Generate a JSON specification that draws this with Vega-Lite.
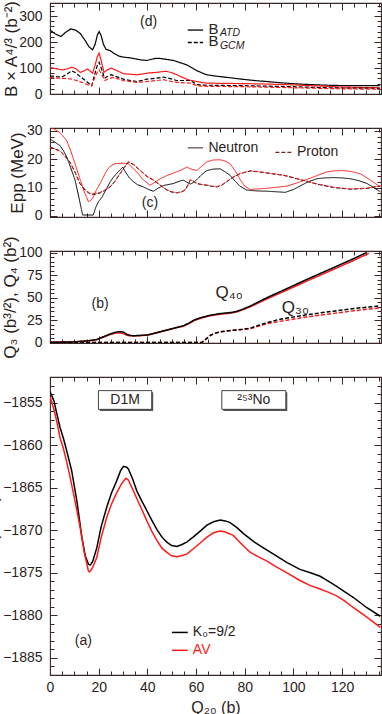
{
"$schema": "https://vega.github.io/schema/vega-lite/v6.json",
"autosize": {"type": "pad"},
"padding": {"left": -18, "top": -2, "right": 0, "bottom": 0},
"background": "white",
"spacing": 34,
"bounds": "flush",
"config": {
  "font": "Liberation Sans",
  "view": {"stroke": "#3a2828", "strokeWidth": 1.1},
  "axis": {"domain": false, "grid": false, "labelFont": "Liberation Sans", "labelFontSize": 14, "labelColor": "#2b1d1d", "titleFont": "Liberation Sans", "titleFontSize": 17, "titleFontWeight": "normal", "titleColor": "#2b1d1d", "tickColor": "#3a2828", "tickWidth": 1, "labelFlush": false, "labelOverlap": false},
  "text": {"font": "Liberation Sans", "fontSize": 14, "color": "#2b1d1d"}
},
"datasets": {
  "d": [
    {"q":0,"v":246,"s":"ATD K0"},{"q":2,"v":232,"s":"ATD K0"},{"q":4.5,"v":221,"s":"ATD K0"},{"q":6.5,"v":238,"s":"ATD K0"},{"q":8.5,"v":250,"s":"ATD K0"},{"q":10.5,"v":246,"s":"ATD K0"},{"q":12.5,"v":232,"s":"ATD K0"},{"q":14.5,"v":205,"s":"ATD K0"},{"q":16,"v":182,"s":"ATD K0"},{"q":17.5,"v":170,"s":"ATD K0"},{"q":18.5,"v":190,"s":"ATD K0"},{"q":19.5,"v":228,"s":"ATD K0"},{"q":20.2,"v":240,"s":"ATD K0"},{"q":21,"v":225,"s":"ATD K0"},{"q":22,"v":190,"s":"ATD K0"},{"q":23,"v":172,"s":"ATD K0"},{"q":24.7,"v":167,"s":"ATD K0"},{"q":26.5,"v":155,"s":"ATD K0"},{"q":28.5,"v":145,"s":"ATD K0"},{"q":30.2,"v":142,"s":"ATD K0"},{"q":33,"v":139,"s":"ATD K0"},{"q":35.7,"v":134,"s":"ATD K0"},{"q":37.5,"v":131,"s":"ATD K0"},{"q":39.8,"v":129,"s":"ATD K0"},{"q":41.5,"v":133,"s":"ATD K0"},{"q":43.2,"v":137,"s":"ATD K0"},{"q":45,"v":137,"s":"ATD K0"},{"q":47.3,"v":134,"s":"ATD K0"},{"q":50.7,"v":129,"s":"ATD K0"},{"q":53,"v":122,"s":"ATD K0"},{"q":56.2,"v":112,"s":"ATD K0"},{"q":58.5,"v":100,"s":"ATD K0"},{"q":60.3,"v":90,"s":"ATD K0"},{"q":62.5,"v":81,"s":"ATD K0"},{"q":64.4,"v":74,"s":"ATD K0"},{"q":68,"v":69,"s":"ATD K0"},{"q":72.6,"v":64,"s":"ATD K0"},{"q":76,"v":60,"s":"ATD K0"},{"q":80.8,"v":55,"s":"ATD K0"},{"q":85,"v":51,"s":"ATD K0"},{"q":89,"v":48,"s":"ATD K0"},{"q":95,"v":43,"s":"ATD K0"},{"q":102.7,"v":38,"s":"ATD K0"},{"q":110,"v":35,"s":"ATD K0"},{"q":116.5,"v":33,"s":"ATD K0"},{"q":125,"v":32,"s":"ATD K0"},{"q":135.5,"v":32,"s":"ATD K0"},
    {"q":0,"v":102,"s":"ATD AV"},{"q":2.5,"v":97,"s":"ATD AV"},{"q":5,"v":93,"s":"ATD AV"},{"q":7,"v":96,"s":"ATD AV"},{"q":9,"v":103,"s":"ATD AV"},{"q":10.5,"v":98,"s":"ATD AV"},{"q":12.4,"v":83,"s":"ATD AV"},{"q":13.8,"v":88,"s":"ATD AV"},{"q":15.4,"v":96,"s":"ATD AV"},{"q":16.5,"v":88,"s":"ATD AV"},{"q":17.5,"v":80,"s":"ATD AV"},{"q":18.5,"v":110,"s":"ATD AV"},{"q":19.5,"v":145,"s":"ATD AV"},{"q":20.2,"v":157,"s":"ATD AV"},{"q":21,"v":130,"s":"ATD AV"},{"q":22.2,"v":83,"s":"ATD AV"},{"q":23.5,"v":92,"s":"ATD AV"},{"q":25.1,"v":100,"s":"ATD AV"},{"q":27,"v":92,"s":"ATD AV"},{"q":30.2,"v":78,"s":"ATD AV"},{"q":33,"v":76,"s":"ATD AV"},{"q":35.7,"v":74,"s":"ATD AV"},{"q":38,"v":77,"s":"ATD AV"},{"q":39.8,"v":80,"s":"ATD AV"},{"q":42,"v":82,"s":"ATD AV"},{"q":43.9,"v":83,"s":"ATD AV"},{"q":46,"v":86,"s":"ATD AV"},{"q":48,"v":87,"s":"ATD AV"},{"q":50,"v":82,"s":"ATD AV"},{"q":52.1,"v":74,"s":"ATD AV"},{"q":54,"v":66,"s":"ATD AV"},{"q":56.2,"v":57,"s":"ATD AV"},{"q":58,"v":52,"s":"ATD AV"},{"q":60.3,"v":48,"s":"ATD AV"},{"q":62.5,"v":44,"s":"ATD AV"},{"q":64.4,"v":42,"s":"ATD AV"},{"q":70,"v":41,"s":"ATD AV"},{"q":80,"v":40,"s":"ATD AV"},{"q":90,"v":38,"s":"ATD AV"},{"q":100,"v":35,"s":"ATD AV"},{"q":110,"v":31,"s":"ATD AV"},{"q":120,"v":27,"s":"ATD AV"},{"q":128,"v":25,"s":"ATD AV"},{"q":135.5,"v":24,"s":"ATD AV"},
    {"q":0,"v":70,"s":"GCM K0"},{"q":2.5,"v":67,"s":"GCM K0"},{"q":4.8,"v":65,"s":"GCM K0"},{"q":7,"v":77,"s":"GCM K0"},{"q":9,"v":89,"s":"GCM K0"},{"q":10.5,"v":82,"s":"GCM K0"},{"q":12,"v":70,"s":"GCM K0"},{"q":13.7,"v":58,"s":"GCM K0"},{"q":15.4,"v":45,"s":"GCM K0"},{"q":17.1,"v":32,"s":"GCM K0"},{"q":18.5,"v":80,"s":"GCM K0"},{"q":19.5,"v":112,"s":"GCM K0"},{"q":20.2,"v":122,"s":"GCM K0"},{"q":21.2,"v":95,"s":"GCM K0"},{"q":22.4,"v":61,"s":"GCM K0"},{"q":23.8,"v":68,"s":"GCM K0"},{"q":25.1,"v":74,"s":"GCM K0"},{"q":27.5,"v":66,"s":"GCM K0"},{"q":30.2,"v":57,"s":"GCM K0"},{"q":33,"v":52,"s":"GCM K0"},{"q":35.7,"v":48,"s":"GCM K0"},{"q":38,"v":53,"s":"GCM K0"},{"q":39.8,"v":57,"s":"GCM K0"},{"q":43,"v":60,"s":"GCM K0"},{"q":46.6,"v":65,"s":"GCM K0"},{"q":49,"v":60,"s":"GCM K0"},{"q":52.1,"v":52,"s":"GCM K0"},{"q":55,"v":52,"s":"GCM K0"},{"q":57.6,"v":52,"s":"GCM K0"},{"q":59,"v":44,"s":"GCM K0"},{"q":60.3,"v":36,"s":"GCM K0"},{"q":63,"v":34,"s":"GCM K0"},{"q":70,"v":33,"s":"GCM K0"},{"q":80,"v":32,"s":"GCM K0"},{"q":90,"v":30,"s":"GCM K0"},{"q":100,"v":28,"s":"GCM K0"},{"q":110,"v":25,"s":"GCM K0"},{"q":120,"v":23,"s":"GCM K0"},{"q":135.5,"v":22,"s":"GCM K0"},
    {"q":0,"v":64,"s":"GCM AV"},{"q":3,"v":61,"s":"GCM AV"},{"q":6,"v":60,"s":"GCM AV"},{"q":9,"v":57,"s":"GCM AV"},{"q":11.5,"v":50,"s":"GCM AV"},{"q":13.7,"v":42,"s":"GCM AV"},{"q":15.5,"v":36,"s":"GCM AV"},{"q":17.1,"v":32,"s":"GCM AV"},{"q":18.5,"v":65,"s":"GCM AV"},{"q":19.5,"v":85,"s":"GCM AV"},{"q":20.2,"v":93,"s":"GCM AV"},{"q":21.2,"v":75,"s":"GCM AV"},{"q":22.6,"v":52,"s":"GCM AV"},{"q":24,"v":58,"s":"GCM AV"},{"q":25.8,"v":64,"s":"GCM AV"},{"q":28,"v":58,"s":"GCM AV"},{"q":30.2,"v":51,"s":"GCM AV"},{"q":33,"v":48,"s":"GCM AV"},{"q":35.7,"v":45,"s":"GCM AV"},{"q":39.8,"v":48,"s":"GCM AV"},{"q":44,"v":52,"s":"GCM AV"},{"q":46.6,"v":55,"s":"GCM AV"},{"q":49,"v":50,"s":"GCM AV"},{"q":52.1,"v":45,"s":"GCM AV"},{"q":55,"v":43,"s":"GCM AV"},{"q":57.6,"v":42,"s":"GCM AV"},{"q":59,"v":37,"s":"GCM AV"},{"q":60.3,"v":32,"s":"GCM AV"},{"q":63,"v":30,"s":"GCM AV"},{"q":70,"v":29,"s":"GCM AV"},{"q":80,"v":28,"s":"GCM AV"},{"q":90,"v":26,"s":"GCM AV"},{"q":100,"v":24,"s":"GCM AV"},{"q":110,"v":22,"s":"GCM AV"},{"q":120,"v":20,"s":"GCM AV"},{"q":135.5,"v":18,"s":"GCM AV"}
  ],
  "c": [
    {"q":0,"v":27.1,"s":"N K0"},{"q":2,"v":26,"s":"N K0"},{"q":4.1,"v":24.8,"s":"N K0"},{"q":5.5,"v":23,"s":"N K0"},{"q":6.9,"v":20.7,"s":"N K0"},{"q":8.5,"v":17,"s":"N K0"},{"q":10.3,"v":12.6,"s":"N K0"},{"q":12,"v":6,"s":"N K0"},{"q":13.4,"v":0.3,"s":"N K0"},{"q":17.8,"v":0.3,"s":"N K0"},{"q":18.8,"v":3,"s":"N K0"},{"q":19.9,"v":5,"s":"N K0"},{"q":21.3,"v":6.5,"s":"N K0"},{"q":22.2,"v":8,"s":"N K0"},{"q":23.3,"v":9.7,"s":"N K0"},{"q":24.7,"v":12,"s":"N K0"},{"q":26.1,"v":13.7,"s":"N K0"},{"q":28,"v":15.5,"s":"N K0"},{"q":29.9,"v":17.2,"s":"N K0"},{"q":31,"v":15.5,"s":"N K0"},{"q":32.5,"v":13.5,"s":"N K0"},{"q":34.3,"v":12,"s":"N K0"},{"q":36,"v":11,"s":"N K0"},{"q":38.4,"v":10.2,"s":"N K0"},{"q":40.5,"v":9.3,"s":"N K0"},{"q":42.5,"v":8.7,"s":"N K0"},{"q":44.5,"v":9.8,"s":"N K0"},{"q":46.6,"v":10.7,"s":"N K0"},{"q":50.7,"v":11.4,"s":"N K0"},{"q":53,"v":12.2,"s":"N K0"},{"q":54.8,"v":12.6,"s":"N K0"},{"q":56,"v":12,"s":"N K0"},{"q":57.6,"v":11.2,"s":"N K0"},{"q":59,"v":11.8,"s":"N K0"},{"q":60.3,"v":12.8,"s":"N K0"},{"q":62.3,"v":14.5,"s":"N K0"},{"q":64.4,"v":16,"s":"N K0"},{"q":67,"v":16.5,"s":"N K0"},{"q":69.9,"v":16.6,"s":"N K0"},{"q":72,"v":15.5,"s":"N K0"},{"q":74,"v":14.3,"s":"N K0"},{"q":76,"v":12.3,"s":"N K0"},{"q":78,"v":10.5,"s":"N K0"},{"q":80.8,"v":9.1,"s":"N K0"},{"q":85,"v":8.8,"s":"N K0"},{"q":89,"v":8.7,"s":"N K0"},{"q":93,"v":8.5,"s":"N K0"},{"q":96.7,"v":8.3,"s":"N K0"},{"q":100,"v":9.3,"s":"N K0"},{"q":102.7,"v":10.5,"s":"N K0"},{"q":106,"v":12,"s":"N K0"},{"q":109.7,"v":13.1,"s":"N K0"},{"q":113,"v":13.4,"s":"N K0"},{"q":116.5,"v":13.5,"s":"N K0"},{"q":120,"v":13.4,"s":"N K0"},{"q":123.4,"v":13.1,"s":"N K0"},{"q":127,"v":12.4,"s":"N K0"},{"q":130.3,"v":11.4,"s":"N K0"},{"q":133,"v":10,"s":"N K0"},{"q":135.7,"v":8.5,"s":"N K0"},
    {"q":0,"v":31.2,"s":"N AV"},{"q":2,"v":30.5,"s":"N AV"},{"q":4.1,"v":29.4,"s":"N AV"},{"q":6.9,"v":26.5,"s":"N AV"},{"q":8.5,"v":23,"s":"N AV"},{"q":10.3,"v":18.4,"s":"N AV"},{"q":12.3,"v":13,"s":"N AV"},{"q":14.3,"v":8,"s":"N AV"},{"q":15.8,"v":5,"s":"N AV"},{"q":16.8,"v":5.5,"s":"N AV"},{"q":17.8,"v":6.7,"s":"N AV"},{"q":19,"v":9,"s":"N AV"},{"q":20.6,"v":11.4,"s":"N AV"},{"q":21.8,"v":13.5,"s":"N AV"},{"q":23.3,"v":16,"s":"N AV"},{"q":24.7,"v":17.5,"s":"N AV"},{"q":26.7,"v":18.4,"s":"N AV"},{"q":30.2,"v":18.6,"s":"N AV"},{"q":32.2,"v":18.4,"s":"N AV"},{"q":34,"v":16.8,"s":"N AV"},{"q":35.7,"v":15.5,"s":"N AV"},{"q":38,"v":13,"s":"N AV"},{"q":41.1,"v":10.8,"s":"N AV"},{"q":43,"v":11.8,"s":"N AV"},{"q":45.3,"v":13.1,"s":"N AV"},{"q":48,"v":14.2,"s":"N AV"},{"q":50.7,"v":15.1,"s":"N AV"},{"q":53.5,"v":16,"s":"N AV"},{"q":56.2,"v":17.2,"s":"N AV"},{"q":58,"v":16.5,"s":"N AV"},{"q":60.3,"v":16,"s":"N AV"},{"q":62.3,"v":17.5,"s":"N AV"},{"q":64.4,"v":19,"s":"N AV"},{"q":67,"v":19.7,"s":"N AV"},{"q":69.9,"v":19.8,"s":"N AV"},{"q":72,"v":19.3,"s":"N AV"},{"q":74,"v":18.4,"s":"N AV"},{"q":76,"v":16,"s":"N AV"},{"q":78,"v":13,"s":"N AV"},{"q":80,"v":10.5,"s":"N AV"},{"q":82.3,"v":9.3,"s":"N AV"},{"q":90,"v":9.8,"s":"N AV"},{"q":97.4,"v":10.5,"s":"N AV"},{"q":101,"v":11.5,"s":"N AV"},{"q":105.5,"v":12.8,"s":"N AV"},{"q":110,"v":14.3,"s":"N AV"},{"q":113.7,"v":15.5,"s":"N AV"},{"q":117,"v":15.9,"s":"N AV"},{"q":120.6,"v":16,"s":"N AV"},{"q":124,"v":15.6,"s":"N AV"},{"q":127.4,"v":14.9,"s":"N AV"},{"q":131,"v":13,"s":"N AV"},{"q":135.7,"v":10.2,"s":"N AV"},
    {"q":0,"v":24.4,"s":"P K0"},{"q":2,"v":23.6,"s":"P K0"},{"q":4.1,"v":23,"s":"P K0"},{"q":6,"v":21.3,"s":"P K0"},{"q":8.2,"v":19,"s":"P K0"},{"q":10,"v":16,"s":"P K0"},{"q":12.3,"v":11.4,"s":"P K0"},{"q":14.5,"v":9,"s":"P K0"},{"q":16.5,"v":7.7,"s":"P K0"},{"q":18.5,"v":7.6,"s":"P K0"},{"q":20.6,"v":8.1,"s":"P K0"},{"q":22.5,"v":9,"s":"P K0"},{"q":24.7,"v":10.2,"s":"P K0"},{"q":26.7,"v":12.2,"s":"P K0"},{"q":28.8,"v":14.9,"s":"P K0"},{"q":30.5,"v":17,"s":"P K0"},{"q":32.2,"v":19,"s":"P K0"},{"q":34.5,"v":18,"s":"P K0"},{"q":37,"v":16,"s":"P K0"},{"q":40,"v":13.8,"s":"P K0"},{"q":42.5,"v":12.6,"s":"P K0"},{"q":45.3,"v":10.8,"s":"P K0"},{"q":48,"v":9.1,"s":"P K0"},{"q":50,"v":8.4,"s":"P K0"},{"q":52.1,"v":8.1,"s":"P K0"},{"q":54,"v":8.4,"s":"P K0"},{"q":55.5,"v":9.1,"s":"P K0"},{"q":56.5,"v":10.5,"s":"P K0"},{"q":57.6,"v":12.6,"s":"P K0"},{"q":58.8,"v":12.3,"s":"P K0"},{"q":60.3,"v":11.4,"s":"P K0"},{"q":62.3,"v":11,"s":"P K0"},{"q":64.4,"v":10.8,"s":"P K0"},{"q":66.5,"v":10.4,"s":"P K0"},{"q":68.5,"v":10.2,"s":"P K0"},{"q":70.5,"v":10.8,"s":"P K0"},{"q":72.6,"v":12,"s":"P K0"},{"q":75,"v":13.5,"s":"P K0"},{"q":78.1,"v":14.9,"s":"P K0"},{"q":82.3,"v":15.8,"s":"P K0"},{"q":85,"v":15.6,"s":"P K0"},{"q":89,"v":15.1,"s":"P K0"},{"q":96,"v":14.3,"s":"P K0"},{"q":102.7,"v":12.8,"s":"P K0"},{"q":109.7,"v":11.2,"s":"P K0"},{"q":116.5,"v":10,"s":"P K0"},{"q":123.4,"v":9.4,"s":"P K0"},{"q":130.3,"v":9.7,"s":"P K0"},{"q":135.7,"v":10.5,"s":"P K0"},
    {"q":0,"v":24.2,"s":"P AV"},{"q":2,"v":23.5,"s":"P AV"},{"q":4.1,"v":22.8,"s":"P AV"},{"q":6,"v":21.2,"s":"P AV"},{"q":8.2,"v":18.8,"s":"P AV"},{"q":10,"v":15.8,"s":"P AV"},{"q":12.3,"v":11.5,"s":"P AV"},{"q":14.5,"v":9.2,"s":"P AV"},{"q":16.5,"v":7.9,"s":"P AV"},{"q":18.5,"v":7.8,"s":"P AV"},{"q":20.6,"v":8.3,"s":"P AV"},{"q":22.5,"v":9.1,"s":"P AV"},{"q":24.7,"v":10.3,"s":"P AV"},{"q":26.7,"v":12.3,"s":"P AV"},{"q":28.8,"v":15,"s":"P AV"},{"q":30.5,"v":17.1,"s":"P AV"},{"q":32.2,"v":19.1,"s":"P AV"},{"q":34.5,"v":18.1,"s":"P AV"},{"q":37,"v":16.1,"s":"P AV"},{"q":40,"v":13.9,"s":"P AV"},{"q":42.5,"v":12.7,"s":"P AV"},{"q":45.3,"v":10.9,"s":"P AV"},{"q":48,"v":9.2,"s":"P AV"},{"q":50,"v":8.5,"s":"P AV"},{"q":52.1,"v":8.2,"s":"P AV"},{"q":54,"v":8.5,"s":"P AV"},{"q":55.5,"v":9.2,"s":"P AV"},{"q":56.5,"v":10.6,"s":"P AV"},{"q":57.6,"v":12.7,"s":"P AV"},{"q":58.8,"v":12.4,"s":"P AV"},{"q":60.3,"v":11.5,"s":"P AV"},{"q":62.3,"v":11.1,"s":"P AV"},{"q":64.4,"v":10.9,"s":"P AV"},{"q":66.5,"v":10.5,"s":"P AV"},{"q":68.5,"v":10.3,"s":"P AV"},{"q":70.5,"v":10.9,"s":"P AV"},{"q":72.6,"v":12.1,"s":"P AV"},{"q":75,"v":13.6,"s":"P AV"},{"q":78.1,"v":15,"s":"P AV"},{"q":82.3,"v":15.9,"s":"P AV"},{"q":85,"v":15.7,"s":"P AV"},{"q":89,"v":15.2,"s":"P AV"},{"q":96,"v":14.4,"s":"P AV"},{"q":102.7,"v":12.9,"s":"P AV"},{"q":109.7,"v":11.3,"s":"P AV"},{"q":116.5,"v":10.1,"s":"P AV"},{"q":123.4,"v":9.5,"s":"P AV"},{"q":130.3,"v":9.8,"s":"P AV"},{"q":135.7,"v":10.6,"s":"P AV"}
  ],
  "b": [
    {"q":0,"v":0.3,"s":"Q40 K0"},{"q":5,"v":0.5,"s":"Q40 K0"},{"q":10,"v":0.8,"s":"Q40 K0"},{"q":13.7,"v":1.5,"s":"Q40 K0"},{"q":16.5,"v":2.2,"s":"Q40 K0"},{"q":19.2,"v":3.3,"s":"Q40 K0"},{"q":22,"v":6,"s":"Q40 K0"},{"q":24.7,"v":8.9,"s":"Q40 K0"},{"q":27,"v":10.5,"s":"Q40 K0"},{"q":28.8,"v":10.8,"s":"Q40 K0"},{"q":30,"v":10.2,"s":"Q40 K0"},{"q":31.5,"v":8.2,"s":"Q40 K0"},{"q":33,"v":7.5,"s":"Q40 K0"},{"q":34.3,"v":7.4,"s":"Q40 K0"},{"q":37,"v":7.7,"s":"Q40 K0"},{"q":39.8,"v":8.2,"s":"Q40 K0"},{"q":42.5,"v":9.8,"s":"Q40 K0"},{"q":45.3,"v":11.9,"s":"Q40 K0"},{"q":48,"v":13.8,"s":"Q40 K0"},{"q":50.7,"v":15.6,"s":"Q40 K0"},{"q":52.8,"v":17,"s":"Q40 K0"},{"q":54.8,"v":18.2,"s":"Q40 K0"},{"q":57,"v":21,"s":"Q40 K0"},{"q":59,"v":24.2,"s":"Q40 K0"},{"q":61,"v":26.3,"s":"Q40 K0"},{"q":63.1,"v":27.9,"s":"Q40 K0"},{"q":65,"v":29.3,"s":"Q40 K0"},{"q":67.2,"v":30.5,"s":"Q40 K0"},{"q":70,"v":31.6,"s":"Q40 K0"},{"q":72.6,"v":32.3,"s":"Q40 K0"},{"q":74.7,"v":33,"s":"Q40 K0"},{"q":76.8,"v":34.2,"s":"Q40 K0"},{"q":79.5,"v":36.8,"s":"Q40 K0"},{"q":82.3,"v":39.8,"s":"Q40 K0"},{"q":89,"v":48.5,"s":"Q40 K0"},{"q":97.4,"v":58.5,"s":"Q40 K0"},{"q":105.5,"v":68.5,"s":"Q40 K0"},{"q":116.5,"v":81.5,"s":"Q40 K0"},{"q":124.8,"v":91.5,"s":"Q40 K0"},{"q":131,"v":99.5,"s":"Q40 K0"},
    {"q":0,"v":0.3,"s":"Q40 AV"},{"q":5,"v":0.5,"s":"Q40 AV"},{"q":10,"v":0.8,"s":"Q40 AV"},{"q":13.7,"v":1.5,"s":"Q40 AV"},{"q":16.5,"v":2.2,"s":"Q40 AV"},{"q":19.2,"v":3.4,"s":"Q40 AV"},{"q":22,"v":6.5,"s":"Q40 AV"},{"q":24.7,"v":9.6,"s":"Q40 AV"},{"q":27,"v":11.5,"s":"Q40 AV"},{"q":28.8,"v":12.2,"s":"Q40 AV"},{"q":30,"v":11.8,"s":"Q40 AV"},{"q":31.5,"v":9.3,"s":"Q40 AV"},{"q":33,"v":7.9,"s":"Q40 AV"},{"q":34.3,"v":7.6,"s":"Q40 AV"},{"q":37,"v":7.9,"s":"Q40 AV"},{"q":39.8,"v":8.4,"s":"Q40 AV"},{"q":42.5,"v":10,"s":"Q40 AV"},{"q":45.3,"v":12.1,"s":"Q40 AV"},{"q":48,"v":14,"s":"Q40 AV"},{"q":50.7,"v":15.8,"s":"Q40 AV"},{"q":52.8,"v":17.3,"s":"Q40 AV"},{"q":54.8,"v":18.6,"s":"Q40 AV"},{"q":57,"v":21.6,"s":"Q40 AV"},{"q":59,"v":24.8,"s":"Q40 AV"},{"q":61,"v":26.9,"s":"Q40 AV"},{"q":63.1,"v":28.5,"s":"Q40 AV"},{"q":65,"v":29.9,"s":"Q40 AV"},{"q":67.2,"v":31.1,"s":"Q40 AV"},{"q":70,"v":32.3,"s":"Q40 AV"},{"q":72.6,"v":33,"s":"Q40 AV"},{"q":74.7,"v":33.6,"s":"Q40 AV"},{"q":76.8,"v":34.8,"s":"Q40 AV"},{"q":79.5,"v":37.5,"s":"Q40 AV"},{"q":82.3,"v":40.7,"s":"Q40 AV"},{"q":89,"v":49.8,"s":"Q40 AV"},{"q":97.4,"v":60.2,"s":"Q40 AV"},{"q":105.5,"v":70.3,"s":"Q40 AV"},{"q":116.5,"v":83.5,"s":"Q40 AV"},{"q":124.8,"v":93.5,"s":"Q40 AV"},{"q":129.8,"v":100,"s":"Q40 AV"},
    {"q":0,"v":0,"s":"Q30 K0"},{"q":62.4,"v":0,"s":"Q30 K0"},{"q":63.5,"v":2.5,"s":"Q30 K0"},{"q":64.8,"v":5.5,"s":"Q30 K0"},{"q":66,"v":8.2,"s":"Q30 K0"},{"q":68,"v":10.5,"s":"Q30 K0"},{"q":70.1,"v":11.9,"s":"Q30 K0"},{"q":72.6,"v":13,"s":"Q30 K0"},{"q":75.6,"v":13.8,"s":"Q30 K0"},{"q":79,"v":14.6,"s":"Q30 K0"},{"q":82.3,"v":15.6,"s":"Q30 K0"},{"q":85.5,"v":18,"s":"Q30 K0"},{"q":89,"v":21,"s":"Q30 K0"},{"q":93,"v":23,"s":"Q30 K0"},{"q":97.4,"v":24.9,"s":"Q30 K0"},{"q":105.5,"v":28.5,"s":"Q30 K0"},{"q":116.5,"v":32.5,"s":"Q30 K0"},{"q":125,"v":35.5,"s":"Q30 K0"},{"q":135.7,"v":38.7,"s":"Q30 K0"},
    {"q":0,"v":0,"s":"Q30 AV"},{"q":62.4,"v":0,"s":"Q30 AV"},{"q":63.5,"v":2.5,"s":"Q30 AV"},{"q":64.8,"v":5.5,"s":"Q30 AV"},{"q":66,"v":8.2,"s":"Q30 AV"},{"q":68,"v":10.5,"s":"Q30 AV"},{"q":70.1,"v":11.9,"s":"Q30 AV"},{"q":72.6,"v":13,"s":"Q30 AV"},{"q":75.6,"v":13.8,"s":"Q30 AV"},{"q":79,"v":14.8,"s":"Q30 AV"},{"q":82.3,"v":16,"s":"Q30 AV"},{"q":85.5,"v":19,"s":"Q30 AV"},{"q":89,"v":22,"s":"Q30 AV"},{"q":93,"v":25,"s":"Q30 AV"},{"q":97.4,"v":27.3,"s":"Q30 AV"},{"q":105.5,"v":31,"s":"Q30 AV"},{"q":116.5,"v":35,"s":"Q30 AV"},{"q":125,"v":38,"s":"Q30 AV"},{"q":135.7,"v":40.9,"s":"Q30 AV"}
  ],
  "a": [
    {"q":0,"v":-1853.7,"s":"K0"},{"q":1.6,"v":-1854.8,"s":"K0"},{"q":2.8,"v":-1856.3,"s":"K0"},{"q":4.1,"v":-1857.9,"s":"K0"},{"q":5.5,"v":-1859.2,"s":"K0"},{"q":6.9,"v":-1860.7,"s":"K0"},{"q":8.9,"v":-1863,"s":"K0"},{"q":11,"v":-1866.5,"s":"K0"},{"q":13.1,"v":-1870.8,"s":"K0"},{"q":14.5,"v":-1873,"s":"K0"},{"q":15.8,"v":-1874,"s":"K0"},{"q":16.5,"v":-1874.1,"s":"K0"},{"q":17.5,"v":-1873.7,"s":"K0"},{"q":19.2,"v":-1872.1,"s":"K0"},{"q":21,"v":-1869.6,"s":"K0"},{"q":23.3,"v":-1867.3,"s":"K0"},{"q":25.3,"v":-1865.6,"s":"K0"},{"q":27.4,"v":-1864.2,"s":"K0"},{"q":29,"v":-1863,"s":"K0"},{"q":30.2,"v":-1862.5,"s":"K0"},{"q":31.5,"v":-1862.6,"s":"K0"},{"q":32.2,"v":-1862.8,"s":"K0"},{"q":34,"v":-1864,"s":"K0"},{"q":35.7,"v":-1865.4,"s":"K0"},{"q":37.8,"v":-1866.6,"s":"K0"},{"q":39.8,"v":-1867.7,"s":"K0"},{"q":41.8,"v":-1868.8,"s":"K0"},{"q":43.9,"v":-1869.9,"s":"K0"},{"q":46,"v":-1870.8,"s":"K0"},{"q":48,"v":-1871.4,"s":"K0"},{"q":50,"v":-1871.8,"s":"K0"},{"q":52.1,"v":-1871.9,"s":"K0"},{"q":54,"v":-1871.7,"s":"K0"},{"q":56.2,"v":-1871.4,"s":"K0"},{"q":58.8,"v":-1870.8,"s":"K0"},{"q":61.7,"v":-1870.1,"s":"K0"},{"q":64.5,"v":-1869.4,"s":"K0"},{"q":67.2,"v":-1869,"s":"K0"},{"q":69.9,"v":-1868.8,"s":"K0"},{"q":72,"v":-1868.9,"s":"K0"},{"q":74,"v":-1869.1,"s":"K0"},{"q":76.8,"v":-1869.7,"s":"K0"},{"q":79.5,"v":-1870.4,"s":"K0"},{"q":84,"v":-1871.4,"s":"K0"},{"q":89,"v":-1872.3,"s":"K0"},{"q":93,"v":-1873,"s":"K0"},{"q":97.4,"v":-1873.8,"s":"K0"},{"q":102.7,"v":-1874.6,"s":"K0"},{"q":107,"v":-1875,"s":"K0"},{"q":111,"v":-1875.4,"s":"K0"},{"q":114.5,"v":-1876,"s":"K0"},{"q":117.8,"v":-1876.6,"s":"K0"},{"q":121,"v":-1877.2,"s":"K0"},{"q":124.7,"v":-1877.9,"s":"K0"},{"q":130.2,"v":-1879.1,"s":"K0"},{"q":135.7,"v":-1880.1,"s":"K0"},
    {"q":0,"v":-1854.3,"s":"AV"},{"q":1.8,"v":-1856,"s":"AV"},{"q":3,"v":-1857.5,"s":"AV"},{"q":4.1,"v":-1859.1,"s":"AV"},{"q":5.5,"v":-1860.4,"s":"AV"},{"q":6.9,"v":-1862,"s":"AV"},{"q":8.2,"v":-1863.7,"s":"AV"},{"q":9.6,"v":-1865.6,"s":"AV"},{"q":11,"v":-1867.6,"s":"AV"},{"q":12.4,"v":-1869.7,"s":"AV"},{"q":14,"v":-1872.5,"s":"AV"},{"q":15.8,"v":-1874.8,"s":"AV"},{"q":16.3,"v":-1874.9,"s":"AV"},{"q":17.5,"v":-1874.4,"s":"AV"},{"q":19.2,"v":-1873.2,"s":"AV"},{"q":21,"v":-1870.9,"s":"AV"},{"q":23.3,"v":-1868.5,"s":"AV"},{"q":25.3,"v":-1866.9,"s":"AV"},{"q":27.4,"v":-1865.6,"s":"AV"},{"q":29.5,"v":-1864.5,"s":"AV"},{"q":31.2,"v":-1863.9,"s":"AV"},{"q":32.2,"v":-1864.1,"s":"AV"},{"q":34,"v":-1865.2,"s":"AV"},{"q":35.7,"v":-1866.3,"s":"AV"},{"q":37.8,"v":-1867.6,"s":"AV"},{"q":39.8,"v":-1868.9,"s":"AV"},{"q":41.8,"v":-1870.1,"s":"AV"},{"q":43.9,"v":-1871.2,"s":"AV"},{"q":46,"v":-1872.1,"s":"AV"},{"q":48,"v":-1872.6,"s":"AV"},{"q":50,"v":-1873,"s":"AV"},{"q":52.1,"v":-1873.1,"s":"AV"},{"q":54,"v":-1873,"s":"AV"},{"q":56.2,"v":-1872.8,"s":"AV"},{"q":58.8,"v":-1872.2,"s":"AV"},{"q":61.7,"v":-1871.5,"s":"AV"},{"q":64.5,"v":-1870.8,"s":"AV"},{"q":67.2,"v":-1870.3,"s":"AV"},{"q":69.9,"v":-1870.1,"s":"AV"},{"q":72,"v":-1870.2,"s":"AV"},{"q":75.3,"v":-1870.6,"s":"AV"},{"q":78,"v":-1871.4,"s":"AV"},{"q":80.8,"v":-1872.2,"s":"AV"},{"q":82.3,"v":-1872.6,"s":"AV"},{"q":85.5,"v":-1873.1,"s":"AV"},{"q":89,"v":-1873.6,"s":"AV"},{"q":93,"v":-1874.3,"s":"AV"},{"q":97.4,"v":-1875,"s":"AV"},{"q":102.7,"v":-1875.9,"s":"AV"},{"q":107,"v":-1876.5,"s":"AV"},{"q":111,"v":-1876.9,"s":"AV"},{"q":114.5,"v":-1877.3,"s":"AV"},{"q":117.8,"v":-1877.7,"s":"AV"},{"q":121,"v":-1878.3,"s":"AV"},{"q":124.7,"v":-1879.1,"s":"AV"},{"q":130.2,"v":-1880.2,"s":"AV"},{"q":135.7,"v":-1881.4,"s":"AV"}
  ],
  "one": [{}]
},
"vconcat": [
  {
    "width": 331, "height": 91,
    "layer": [
      {"data": {"name": "d"}, "mark": {"type": "line", "strokeWidth": 1.2, "clip": true},
       "encoding": {
         "x": {"field": "q", "type": "quantitative", "scale": {"domain": [0, 136], "nice": false, "zero": false},
               "axis": {"orient": "bottom", "values": [0,5,10,15,20,25,30,35,40,45,50,55,60,65,70,75,80,85,90,95,100,105,110,115,120,125,130,135], "labels": false, "title": null, "tickSize": {"condition": {"test": "datum.value % 20 === 0", "value": -7}, "value": -4}}},
         "y": {"field": "v", "type": "quantitative", "scale": {"domain": [0, 350], "nice": false},
               "axis": {"orient": "left", "values": [0,20,40,60,80,100,120,140,160,180,200,220,240,260,280,300,320,340], "tickSize": {"condition": {"test": "datum.value % 100 === 0", "value": -7}, "value": -4}, "labelExpr": "datum.value % 100 === 0 ? datum.label : ''", "labelPadding": 15, "title": "B × A⁴/³ (b⁻²)", "titleX": -34, "titleBaseline": "alphabetic"}},
         "color": {"field": "s", "type": "nominal", "legend": null, "scale": {"domain": ["ATD K0", "ATD AV", "GCM K0", "GCM AV"], "range": ["#000000", "#ff1a1a", "#000000", "#ff1a1a"]}},
         "strokeDash": {"field": "s", "type": "nominal", "legend": null, "scale": {"domain": ["ATD K0", "ATD AV", "GCM K0", "GCM AV"], "range": [[1, 0], [1, 0], [4, 2], [4, 2]]}}
       }},
      {"data": {"name": "d"}, "mark": {"type": "point", "opacity": 0},
       "encoding": {
         "x": {"field": "q", "type": "quantitative", "axis": {"orient": "top", "values": [0,5,10,15,20,25,30,35,40,45,50,55,60,65,70,75,80,85,90,95,100,105,110,115,120,125,130,135], "labels": false, "title": null, "tickSize": {"condition": {"test": "datum.value % 20 === 0", "value": -7}, "value": -4}}},
         "y": {"field": "v", "type": "quantitative", "axis": {"orient": "right", "values": [0,20,40,60,80,100,120,140,160,180,200,220,240,260,280,300,320,340], "labels": false, "title": null, "tickSize": {"condition": {"test": "datum.value % 100 === 0", "value": -7}, "value": -4}}}
       }},
      {"data": {"name": "one"}, "mark": {"type": "text", "text": "(d)", "fontSize": 14},
       "encoding": {"x": {"datum": 40.5, "type": "quantitative", "axis": null}, "y": {"datum": 278, "type": "quantitative", "axis": null}}},
      {"data": {"name": "one"}, "mark": {"type": "rule", "color": "#000000", "strokeWidth": 1.3},
       "encoding": {"x": {"datum": 56.6, "type": "quantitative", "axis": null}, "x2": {"datum": 62.9}, "y": {"datum": 246, "type": "quantitative", "axis": null}}},
      {"data": {"name": "one"}, "mark": {"type": "rule", "color": "#000000", "strokeWidth": 1.3, "strokeDash": [4, 2]},
       "encoding": {"x": {"datum": 56.6, "type": "quantitative", "axis": null}, "x2": {"datum": 62.9}, "y": {"datum": 198, "type": "quantitative", "axis": null}}},
      {"data": {"name": "one"}, "mark": {"type": "text", "text": "B", "fontSize": 15, "align": "left", "baseline": "middle"},
       "encoding": {"x": {"datum": 65.1, "type": "quantitative", "axis": null}, "y": {"datum": 249, "type": "quantitative", "axis": null}}},
      {"data": {"name": "one"}, "mark": {"type": "text", "text": "ATD", "fontSize": 10.5, "fontStyle": "italic", "align": "left", "baseline": "middle"},
       "encoding": {"x": {"datum": 69.8, "type": "quantitative", "axis": null}, "y": {"datum": 233, "type": "quantitative", "axis": null}}},
      {"data": {"name": "one"}, "mark": {"type": "text", "text": "B", "fontSize": 15, "align": "left", "baseline": "middle"},
       "encoding": {"x": {"datum": 65.1, "type": "quantitative", "axis": null}, "y": {"datum": 205, "type": "quantitative", "axis": null}}},
      {"data": {"name": "one"}, "mark": {"type": "text", "text": "GCM", "fontSize": 10.5, "fontStyle": "italic", "align": "left", "baseline": "middle"},
       "encoding": {"x": {"datum": 69.8, "type": "quantitative", "axis": null}, "y": {"datum": 183, "type": "quantitative", "axis": null}}}
    ]
  },
  {
    "width": 331, "height": 89,
    "layer": [
      {"data": {"name": "c"}, "mark": {"type": "line", "strokeWidth": 1, "clip": true},
       "encoding": {
         "x": {"field": "q", "type": "quantitative", "scale": {"domain": [0, 136], "nice": false, "zero": false},
               "axis": {"orient": "bottom", "values": [0,5,10,15,20,25,30,35,40,45,50,55,60,65,70,75,80,85,90,95,100,105,110,115,120,125,130,135], "labels": false, "title": null, "tickSize": {"condition": {"test": "datum.value % 20 === 0", "value": -7}, "value": -4}}},
         "y": {"field": "v", "type": "quantitative", "scale": {"domain": [-0.4, 31], "nice": false, "zero": false},
               "axis": {"orient": "left", "values": [0,2,4,6,8,10,12,14,16,18,20,22,24,26,28,30], "tickSize": {"condition": {"test": "datum.value % 10 === 0", "value": -7}, "value": -4}, "labelExpr": "datum.value % 10 === 0 ? datum.label : ''", "labelPadding": 15, "title": "Epp (MeV)", "titleX": -28, "titleBaseline": "alphabetic"}},
         "color": {"field": "s", "type": "nominal", "legend": null, "scale": {"domain": ["N K0", "N AV", "P K0", "P AV"], "range": ["#1a1a1a", "#ff2020", "#2a0a0a", "#b01010"]}},
         "strokeDash": {"field": "s", "type": "nominal", "legend": null, "scale": {"domain": ["N K0", "N AV", "P K0", "P AV"], "range": [[1, 0], [1, 0], [4, 2], [4, 2]]}}
       }},
      {"data": {"name": "c"}, "mark": {"type": "point", "opacity": 0},
       "encoding": {
         "x": {"field": "q", "type": "quantitative", "axis": {"orient": "top", "values": [0,5,10,15,20,25,30,35,40,45,50,55,60,65,70,75,80,85,90,95,100,105,110,115,120,125,130,135], "labels": false, "title": null, "tickSize": {"condition": {"test": "datum.value % 20 === 0", "value": -7}, "value": -4}}},
         "y": {"field": "v", "type": "quantitative", "axis": {"orient": "right", "values": [0,2,4,6,8,10,12,14,16,18,20,22,24,26,28,30], "labels": false, "title": null, "tickSize": {"condition": {"test": "datum.value % 10 === 0", "value": -7}, "value": -4}}}
       }},
      {"data": {"name": "one"}, "mark": {"type": "rule", "color": "#5a4646", "strokeWidth": 1.2},
       "encoding": {"x": {"datum": 56.6, "type": "quantitative", "axis": null}, "x2": {"datum": 62.9}, "y": {"datum": 24, "type": "quantitative", "axis": null}}},
      {"data": {"name": "one"}, "mark": {"type": "text", "text": "Neutron", "fontSize": 14, "align": "left", "baseline": "middle"},
       "encoding": {"x": {"datum": 65.1, "type": "quantitative", "axis": null}, "y": {"datum": 24, "type": "quantitative", "axis": null}}},
      {"data": {"name": "one"}, "mark": {"type": "rule", "color": "#7a1f1f", "strokeWidth": 1.3, "strokeDash": [4, 2]},
       "encoding": {"x": {"datum": 92.6, "type": "quantitative", "axis": null}, "x2": {"datum": 100}, "y": {"datum": 22.4, "type": "quantitative", "axis": null}}},
      {"data": {"name": "one"}, "mark": {"type": "text", "text": "Proton", "fontSize": 14, "align": "left", "baseline": "middle"},
       "encoding": {"x": {"datum": 101.5, "type": "quantitative", "axis": null}, "y": {"datum": 22.4, "type": "quantitative", "axis": null}}},
      {"data": {"name": "one"}, "mark": {"type": "text", "text": "(c)", "fontSize": 14},
       "encoding": {"x": {"datum": 41.1, "type": "quantitative", "axis": null}, "y": {"datum": 4.4, "type": "quantitative", "axis": null}}}
    ]
  },
  {
    "width": 331, "height": 92,
    "layer": [
      {"data": {"name": "b"}, "mark": {"type": "line", "strokeWidth": 1.5, "clip": true},
       "encoding": {
         "x": {"field": "q", "type": "quantitative", "scale": {"domain": [0, 136], "nice": false, "zero": false},
               "axis": {"orient": "bottom", "values": [0,5,10,15,20,25,30,35,40,45,50,55,60,65,70,75,80,85,90,95,100,105,110,115,120,125,130,135], "labels": false, "title": null, "tickSize": {"condition": {"test": "datum.value % 20 === 0", "value": -7}, "value": -4}}},
         "y": {"field": "v", "type": "quantitative", "scale": {"domain": [-0.5, 102], "nice": false, "zero": false},
               "axis": {"orient": "left", "values": [0,5,10,15,20,25,30,35,40,45,50,55,60,65,70,75,80,85,90,95,100], "tickSize": {"condition": {"test": "datum.value % 25 === 0", "value": -7}, "value": -4}, "labelExpr": "datum.value % 25 === 0 ? datum.label : ''", "labelPadding": 15, "title": "Q₃ (b³/²), Q₄ (b²)", "titleX": -35, "titleBaseline": "alphabetic"}},
         "color": {"field": "s", "type": "nominal", "legend": null, "scale": {"domain": ["Q40 AV", "Q40 K0", "Q30 AV", "Q30 K0"], "range": ["#ff1a1a", "#000000", "#ff1a1a", "#000000"]}},
         "strokeDash": {"field": "s", "type": "nominal", "legend": null, "scale": {"domain": ["Q40 AV", "Q40 K0", "Q30 AV", "Q30 K0"], "range": [[1, 0], [1, 0], [4, 2], [4, 2]]}}
       }},
      {"data": {"name": "b"}, "mark": {"type": "point", "opacity": 0},
       "encoding": {
         "x": {"field": "q", "type": "quantitative", "axis": {"orient": "top", "values": [0,5,10,15,20,25,30,35,40,45,50,55,60,65,70,75,80,85,90,95,100,105,110,115,120,125,130,135], "labels": false, "title": null, "tickSize": {"condition": {"test": "datum.value % 20 === 0", "value": -7}, "value": -4}}},
         "y": {"field": "v", "type": "quantitative", "axis": {"orient": "right", "values": [0,5,10,15,20,25,30,35,40,45,50,55,60,65,70,75,80,85,90,95,100], "labels": false, "title": null, "tickSize": {"condition": {"test": "datum.value % 25 === 0", "value": -7}, "value": -4}}}
       }},
      {"data": {"name": "one"}, "mark": {"type": "text", "text": "(b)", "fontSize": 14},
       "encoding": {"x": {"datum": 20.6, "type": "quantitative", "axis": null}, "y": {"datum": 43.5, "type": "quantitative", "axis": null}}},
      {"data": {"name": "one"}, "mark": {"type": "text", "text": "Q₄₀", "fontSize": 17},
       "encoding": {"x": {"datum": 73.6, "type": "quantitative", "axis": null}, "y": {"datum": 55, "type": "quantitative", "axis": null}}},
      {"data": {"name": "one"}, "mark": {"type": "text", "text": "Q₃₀", "fontSize": 17},
       "encoding": {"x": {"datum": 100.8, "type": "quantitative", "axis": null}, "y": {"datum": 38, "type": "quantitative", "axis": null}}}
    ]
  },
  {
    "width": 331, "height": 298,
    "layer": [
      {"data": {"name": "a"}, "mark": {"type": "line", "strokeWidth": 1.5, "clip": true},
       "encoding": {
         "x": {"field": "q", "type": "quantitative", "scale": {"domain": [0, 136], "nice": false, "zero": false},
               "axis": {"orient": "bottom", "values": [0,5,10,15,20,25,30,35,40,45,50,55,60,65,70,75,80,85,90,95,100,105,110,115,120,125,130,135], "tickSize": {"condition": {"test": "datum.value % 20 === 0", "value": -7}, "value": -4}, "labelExpr": "datum.value % 20 === 0 ? datum.label : ''", "labelPadding": 12, "title": "Q₂₀ (b)", "titleFontSize": 16, "titlePadding": 2}},
         "y": {"field": "v", "type": "quantitative", "scale": {"domain": [-1887, -1852], "nice": false, "zero": false},
               "axis": {"orient": "left", "values": [-1887,-1886,-1885,-1884,-1883,-1882,-1881,-1880,-1879,-1878,-1877,-1876,-1875,-1874,-1873,-1872,-1871,-1870,-1869,-1868,-1867,-1866,-1865,-1864,-1863,-1862,-1861,-1860,-1859,-1858,-1857,-1856,-1855,-1854,-1853,-1852], "format": "d", "tickSize": {"condition": {"test": "datum.value % 5 === 0", "value": -7}, "value": -4}, "labelExpr": "datum.value % 5 === 0 ? datum.label : ''", "labelPadding": 15, "title": "E (MeV)", "titleX": -53, "titleBaseline": "alphabetic"}},
         "color": {"field": "s", "type": "nominal", "legend": null, "scale": {"domain": ["K0", "AV"], "range": ["#000000", "#ff1a1a"]}}
       }},
      {"data": {"name": "a"}, "mark": {"type": "point", "opacity": 0},
       "encoding": {
         "x": {"field": "q", "type": "quantitative", "axis": {"orient": "top", "values": [0,5,10,15,20,25,30,35,40,45,50,55,60,65,70,75,80,85,90,95,100,105,110,115,120,125,130,135], "labels": false, "title": null, "tickSize": {"condition": {"test": "datum.value % 20 === 0", "value": -7}, "value": -4}}},
         "y": {"field": "v", "type": "quantitative", "axis": {"orient": "right", "values": [-1887,-1886,-1885,-1884,-1883,-1882,-1881,-1880,-1879,-1878,-1877,-1876,-1875,-1874,-1873,-1872,-1871,-1870,-1869,-1868,-1867,-1866,-1865,-1864,-1863,-1862,-1861,-1860,-1859,-1858,-1857,-1856,-1855,-1854,-1853,-1852], "labels": false, "title": null, "tickSize": {"condition": {"test": "datum.value % 5 === 0", "value": -7}, "value": -4}}}
       }},
      {"data": {"name": "one"}, "mark": {"type": "rect", "fill": "#555555"},
       "encoding": {"x": {"datum": 20.5, "type": "quantitative", "axis": null}, "x2": {"datum": 42.4}, "y": {"datum": -1853.8, "type": "quantitative", "axis": null}, "y2": {"datum": -1856.0}}},
      {"data": {"name": "one"}, "mark": {"type": "rect", "fill": "#ffffff", "stroke": "#444444", "strokeWidth": 1},
       "encoding": {"x": {"datum": 19.9, "type": "quantitative", "axis": null}, "x2": {"datum": 41.8}, "y": {"datum": -1853.6, "type": "quantitative", "axis": null}, "y2": {"datum": -1855.8}}},
      {"data": {"name": "one"}, "mark": {"type": "rect", "fill": "#555555"},
       "encoding": {"x": {"datum": 71.2, "type": "quantitative", "axis": null}, "x2": {"datum": 97.5}, "y": {"datum": -1853.8, "type": "quantitative", "axis": null}, "y2": {"datum": -1856.0}}},
      {"data": {"name": "one"}, "mark": {"type": "rect", "fill": "#ffffff", "stroke": "#444444", "strokeWidth": 1},
       "encoding": {"x": {"datum": 70.6, "type": "quantitative", "axis": null}, "x2": {"datum": 96.9}, "y": {"datum": -1853.6, "type": "quantitative", "axis": null}, "y2": {"datum": -1855.8}}},
      {"data": {"name": "one"}, "mark": {"type": "text", "text": "D1M", "fontSize": 14, "baseline": "middle"},
       "encoding": {"x": {"datum": 30.85, "type": "quantitative", "axis": null}, "y": {"datum": -1854.7, "type": "quantitative", "axis": null}}},
      {"data": {"name": "one"}, "mark": {"type": "text", "text": "²⁵³No", "fontSize": 14, "baseline": "middle"},
       "encoding": {"x": {"datum": 83.75, "type": "quantitative", "axis": null}, "y": {"datum": -1854.7, "type": "quantitative", "axis": null}}},
      {"data": {"name": "one"}, "mark": {"type": "text", "text": "(a)", "fontSize": 14},
       "encoding": {"x": {"datum": 13.7, "type": "quantitative", "axis": null}, "y": {"datum": -1883, "type": "quantitative", "axis": null}}},
      {"data": {"name": "one"}, "mark": {"type": "rule", "color": "#000000", "strokeWidth": 1.5},
       "encoding": {"x": {"datum": 50.1, "type": "quantitative", "axis": null}, "x2": {"datum": 56.6}, "y": {"datum": -1882, "type": "quantitative", "axis": null}}},
      {"data": {"name": "one"}, "mark": {"type": "text", "text": "K₀=9/2", "fontSize": 14, "align": "left", "baseline": "middle"},
       "encoding": {"x": {"datum": 58.7, "type": "quantitative", "axis": null}, "y": {"datum": -1882, "type": "quantitative", "axis": null}}},
      {"data": {"name": "one"}, "mark": {"type": "rule", "color": "#ff1a1a", "strokeWidth": 1.5},
       "encoding": {"x": {"datum": 50.1, "type": "quantitative", "axis": null}, "x2": {"datum": 56.6}, "y": {"datum": -1884.1, "type": "quantitative", "axis": null}}},
      {"data": {"name": "one"}, "mark": {"type": "text", "text": "AV", "fontSize": 14, "align": "left", "baseline": "middle", "color": "#ff1a1a"},
       "encoding": {"x": {"datum": 58.7, "type": "quantitative", "axis": null}, "y": {"datum": -1884.1, "type": "quantitative", "axis": null}}}
    ]
  }
]
}
